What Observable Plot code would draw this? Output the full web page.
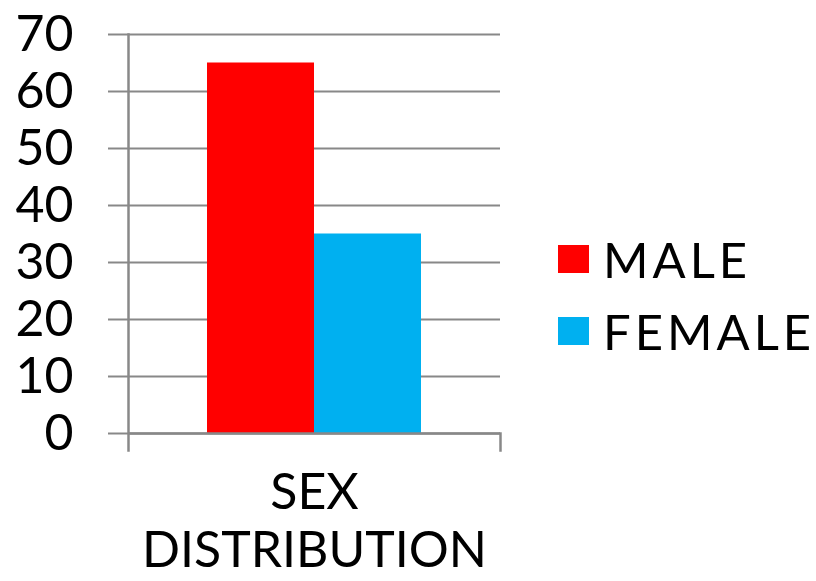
<!DOCTYPE html>
<html>
<head>
<meta charset="utf-8">
<script src="https://cdn.jsdelivr.net/npm/d3@7"></script>
<script src="https://cdn.jsdelivr.net/npm/@observablehq/plot@0.6"></script>
<style>
  html, body { margin: 0; padding: 0; background: #fff; }
  #wrap { position: relative; width: 816px; height: 581px; font-family: Lato, "DejaVu Sans", sans-serif; }
  #legend { position: absolute; left: 558px; top: 223px; }
  .item { display: flex; align-items: center; height: 72px; font-size: 49px; color: #000; line-height: 1; letter-spacing: 4px; }
  .swatch { width: 31px; height: 28px; margin-right: 14px; }
</style>
</head>
<body>
<div id="wrap"></div>
<script>
// Sex distribution of the respondents (percent)
const category = ["SEX DISTRIBUTION"];
const sexes = ["MALE", "FEMALE"];
const values = [65, 35];
const colors = ["#FF0000", "#00B0F0"];
const yTicks = [0, 10, 20, 30, 40, 50, 60, 70];

const rows = sexes.map((s, i) => ({category: category[0], sex: s, value: values[i]}));

const W = 816, H = 581;
const margin = {top: 34, right: 316, bottom: 148, left: 128};
const innerH = H - margin.top - margin.bottom;
const axisGrey = "#888888";

const chart = Plot.plot({
  width: W,
  height: H,
  marginTop: margin.top,
  marginRight: margin.right,
  marginBottom: margin.bottom,
  marginLeft: margin.left,
  style: {fontFamily: "Lato, 'DejaVu Sans', sans-serif", fontSize: "50px", color: "#000", background: "#fff"},
  fx: {domain: category, padding: 0, label: null},
  x: {domain: sexes, paddingInner: 0, paddingOuter: 0.738, axis: null},
  y: {domain: [0, 70], label: null},
  color: {domain: sexes, range: colors},
  marks: [
    Plot.gridY(yTicks, {stroke: axisGrey, strokeOpacity: 1, strokeWidth: 2}),
    Plot.axisY(yTicks, {tickSize: 20, tickPadding: 35, stroke: axisGrey, strokeWidth: 2, fontSize: 50, fill: "#000", label: null}),
    Plot.barY(rows, {fx: "category", x: "sex", y: "value", fill: "sex", inset: 0}),
    Plot.ruleY([0], {stroke: axisGrey, strokeWidth: 2.5}),
    Plot.frame({anchor: "left", stroke: axisGrey, strokeWidth: 2.5, insetBottom: -17}),
    Plot.frame({anchor: "right", stroke: axisGrey, strokeWidth: 2.5, insetTop: innerH, insetBottom: -17}),
    Plot.axisFx({
      anchor: "bottom",
      tickSize: 0,
      tickPadding: 34,
      fontSize: 50,
      lineHeight: 1.16,
      fill: "#000",
      label: null,
      style: {letterSpacing: "4.5px"},
      tickFormat: d => d.replace(" ", "\n")
    })
  ]
});

const wrap = document.getElementById("wrap");
wrap.appendChild(chart);

// Legend on the right
const legend = document.createElement("div");
legend.id = "legend";
sexes.forEach((s, i) => {
  const item = document.createElement("div");
  item.className = "item";
  const sw = document.createElement("span");
  sw.className = "swatch";
  sw.style.background = colors[i];
  const label = document.createElement("span");
  label.textContent = s;
  item.appendChild(sw);
  item.appendChild(label);
  legend.appendChild(item);
});
wrap.appendChild(legend);
</script>
</body>
</html>
